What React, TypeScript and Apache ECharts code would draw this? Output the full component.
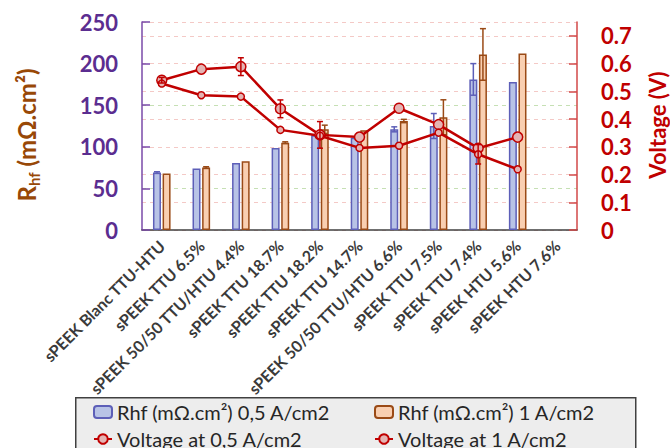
import React, { useEffect, useRef } from 'react';
import * as echarts from 'echarts';

const categories = [
  'sPEEK Blanc TTU-HTU',
  'sPEEK TTU 6.5%',
  'sPEEK 50/50 TTU/HTU 4.4%',
  'sPEEK TTU 18.7%',
  'sPEEK TTU 18.2%',
  'sPEEK TTU 14.7%',
  'sPEEK 50/50 TTU/HTU 6.6%',
  'sPEEK TTU 7.5%',
  'sPEEK TTU 7.4%',
  'sPEEK HTU 5.6%',
  'sPEEK HTU 7.6%',
];
const rhf05 = [69, 74, 80.5, 98.5, 114, 111, 121, 125, 181, 178, null];
const rhf1 = [68, 75, 82.5, 105, 121, 120, 131, 135.5, 211, 212, null];
const rhf05Err = [1, 0, 0, 0, 0, 0, 3, 15, 19, 0, 0];
const rhf1Err = [0, 1, 0, 1, 5, 0, 2, 21, 31, 0, 0];
const v05 = [0.54, 0.58, 0.589, 0.437, 0.343, 0.335, 0.439, 0.38, 0.295, 0.335, null];
const v1 = [0.528, 0.486, 0.481, 0.361, 0.34, 0.296, 0.304, 0.351, 0.273, 0.219, null];
const v05Err = [0.01, 0, 0.032, 0.032, 0.048, 0, 0, 0, 0, 0, 0];
const v1Err = [0, 0, 0, 0, 0, 0, 0, 0, 0.035, 0, 0];
const leftTicks = [0, 50, 100, 150, 200, 250];
const rightTicks = [0, 0.1, 0.2, 0.3, 0.4, 0.5, 0.6, 0.7];
const seriesNames = ['Rhf (mΩ.cm²) 0,5 A/cm2', 'Rhf (mΩ.cm²) 1 A/cm2', 'Voltage at 0,5 A/cm2', 'Voltage at 1 A/cm2'];

const FONT = 'Lato, "Open Sans", sans-serif';
const PURPLE = '#5b2d90';
const RED = '#c00000';
const BROWN = '#984807';
const BLUE_FILL = '#b8c3e6';
const BLUE_EDGE = '#5d5fb8';
const OR_FILL = '#f9cfb1';
const OR_EDGE = '#9a4a16';

function errorSeries(values: (number | null)[], errs: number[], offset: number, color: string, yAxisIndex: number, z: number) {
  return {
    type: 'custom',
    yAxisIndex,
    z,
    silent: true,
    encode: { x: 0, y: 1 },
    data: values.map((v, i) => [i, v == null ? NaN : v, errs[i]]),
    renderItem: (params: any, api: any) => {
      const i = api.value(0);
      const v = api.value(1);
      const e = api.value(2);
      if (!(e > 0) || isNaN(v)) return null;
      const top = api.coord([i, v + e]);
      const bot = api.coord([i, v - e]);
      const x = top[0] + offset;
      const cap = 3;
      const st = { stroke: color, lineWidth: 1.5 };
      return {
        type: 'group',
        children: [
          { type: 'line', shape: { x1: x, y1: top[1], x2: x, y2: bot[1] }, style: st },
          { type: 'line', shape: { x1: x - cap, y1: top[1], x2: x + cap, y2: top[1] }, style: st },
          { type: 'line', shape: { x1: x - cap, y1: bot[1], x2: x + cap, y2: bot[1] }, style: st },
        ],
      };
    },
  };
}

function legendItem(name: string, left: number, top: number) {
  return {
    left,
    top,
    itemWidth: 18,
    itemHeight: 12,
    textStyle: { fontSize: 20, color: '#262626', fontFamily: FONT },
    data: [name],
  };
}

export default function App() {
  const ref = useRef<HTMLDivElement>(null);
  useEffect(() => {
    if (!ref.current) return;
    const chart = echarts.init(ref.current, undefined, { renderer: 'svg' });
    const option: any = {
      animation: false,
      backgroundColor: '#ffffff',
      textStyle: { fontFamily: FONT },
      grid: { left: 142, right: 93, top: 22, bottom: 218 },
      xAxis: {
        type: 'category',
        data: categories,
        axisTick: { show: false },
        axisLine: { lineStyle: { color: '#404040', width: 1.5 } },
        axisLabel: {
          interval: 0,
          rotate: 45,
          margin: 13,
          fontSize: 16,
          fontWeight: 'bold',
          color: '#3a3a3a',
          fontFamily: FONT,
        },
      },
      yAxis: [
        {
          type: 'value',
          min: leftTicks[0],
          max: leftTicks[leftTicks.length - 1],
          interval: 50,
          axisLine: { show: true, lineStyle: { color: '#7a4aa8', width: 1.5 } },
          axisTick: { show: true, inside: true, length: 8, lineStyle: { color: '#7a4aa8', width: 1.5 } },
          axisLabel: { fontSize: 22, fontWeight: 'bold', color: PURPLE, margin: 24, fontFamily: FONT },
          splitLine: { show: true, lineStyle: { color: '#c6e0b4', type: [4, 4], width: 1 } },
        },
        {
          type: 'value',
          min: 0,
          max: 0.75,
          interval: 0.1,
          position: 'right',
          axisLine: { show: true, lineStyle: { color: '#d24848', width: 1.5 } },
          axisTick: { show: true, inside: true, length: 8, lineStyle: { color: '#d24848', width: 1.5 } },
          axisLabel: {
            fontSize: 22,
            fontWeight: 'bold',
            color: RED,
            margin: 24,
            showMaxLabel: false,
            fontFamily: FONT,
            formatter: (v: number) => (v === 0 ? '0' : rightTicks.includes(Math.round(v * 10) / 10) ? v.toFixed(1) : ''),
          },
          splitLine: { show: true, lineStyle: { color: '#f4c9c6', type: [4, 4], width: 1 } },
        },
      ],
      legend: [
        legendItem(seriesNames[0], 88, 397),
        legendItem(seriesNames[1], 369, 397),
        legendItem(seriesNames[2], 88, 424),
        legendItem(seriesNames[3], 369, 424),
      ],
      graphic: [
        {
          type: 'rect',
          z: -1,
          left: 75,
          top: 397,
          shape: { width: 560, height: 70 },
          style: { fill: '#ededed', stroke: '#404040', lineWidth: 1.5 },
        },
        {
          type: 'text',
          x: 26,
          y: 135,
          rotation: Math.PI / 2,
          style: {
            text: '{a|R}{b|hf}{a| (mΩ.cm²)}',
            align: 'center',
            verticalAlign: 'middle',
            rich: {
              a: { fontSize: 24, fontWeight: 'bold', fill: BROWN, fontFamily: FONT, lineHeight: 30, verticalAlign: 'middle' },
              b: { fontSize: 15, fontWeight: 'bold', fill: BROWN, fontFamily: FONT, lineHeight: 15, verticalAlign: 'bottom' },
            },
          },
        },
        {
          type: 'text',
          x: 657,
          y: 125,
          rotation: Math.PI / 2,
          style: {
            text: 'Voltage (V)',
            align: 'center',
            verticalAlign: 'middle',
            fontSize: 22,
            fontWeight: 'bold',
            fill: RED,
            fontFamily: FONT,
          },
        },
      ],
      series: [
        {
          name: seriesNames[0],
          type: 'bar',
          data: rhf05,
          barWidth: 8,
          barGap: '20%',
          z: 2,
          itemStyle: { color: BLUE_FILL, borderColor: BLUE_EDGE, borderWidth: 1.5 },
        },
        {
          name: seriesNames[1],
          type: 'bar',
          data: rhf1,
          barWidth: 8,
          barGap: '20%',
          z: 2,
          itemStyle: { color: OR_FILL, borderColor: OR_EDGE, borderWidth: 1.5 },
        },
        errorSeries(rhf05, rhf05Err, -4.8, BLUE_EDGE, 0, 3),
        errorSeries(rhf1, rhf1Err, 4.8, OR_EDGE, 0, 3),
        {
          name: seriesNames[2],
          type: 'line',
          yAxisIndex: 1,
          data: v05,
          z: 5,
          symbol: 'circle',
          symbolSize: 10,
          lineStyle: { color: RED, width: 2.5 },
          itemStyle: { color: '#e4b4b3', borderColor: RED, borderWidth: 1.5 },
        },
        {
          name: seriesNames[3],
          type: 'line',
          yAxisIndex: 1,
          data: v1,
          z: 5,
          symbol: 'circle',
          symbolSize: 7,
          lineStyle: { color: RED, width: 2.5 },
          itemStyle: { color: '#e4b4b3', borderColor: RED, borderWidth: 1.5 },
        },
        errorSeries(v05, v05Err, 0, RED, 1, 6),
        errorSeries(v1, v1Err, 0, RED, 1, 6),
      ],
    };
    chart.setOption(option);
    return () => chart.dispose();
  }, []);
  return <div ref={ref} style={{ position: 'absolute', left: 0, top: 0, width: 670, height: 448 }} />;
}
